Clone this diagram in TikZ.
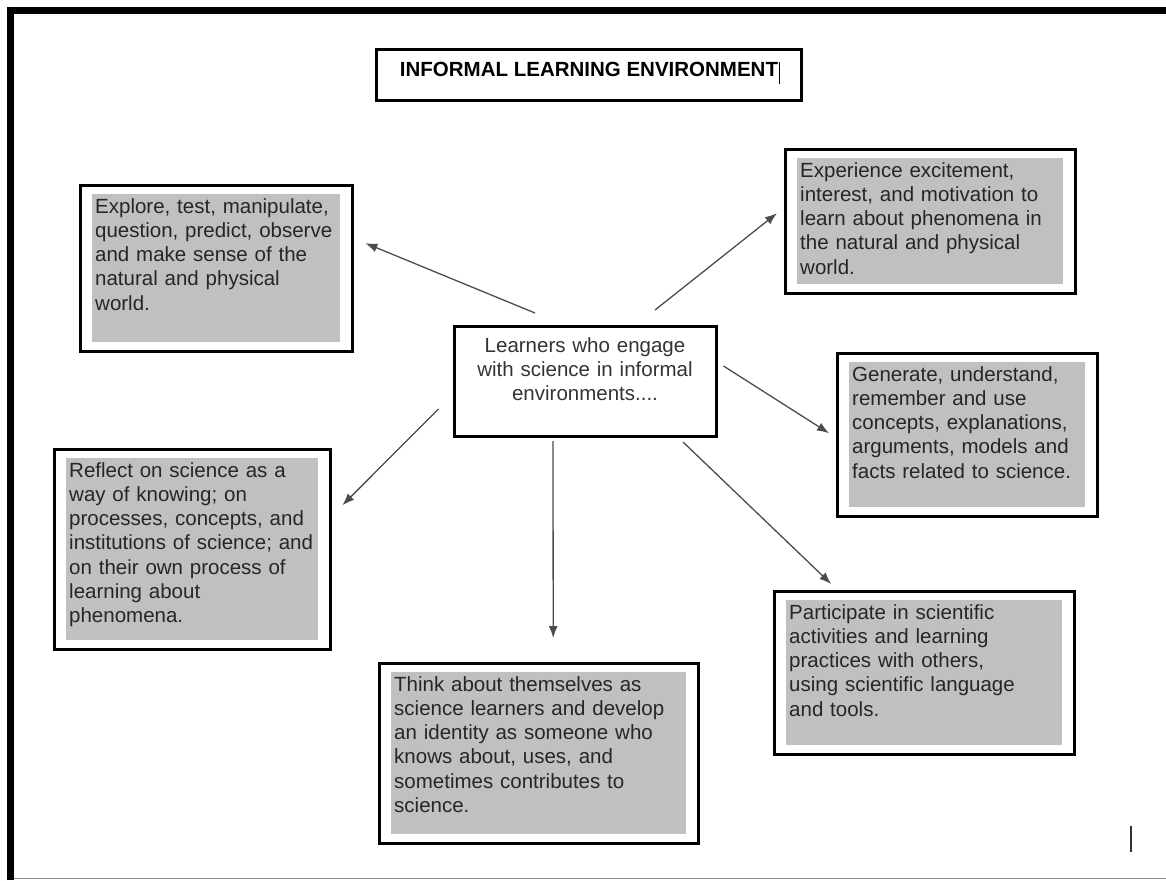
\documentclass[tikz,border=0pt]{standalone}
\usepackage{fontspec}
\setmainfont{Liberation Sans}
\usetikzlibrary{positioning,arrows.meta,fit,calc}
\definecolor{boxgray}{RGB}{192,192,192}

\begin{document}
\begin{tikzpicture}[x=1pt, y=-1pt, >={Latex[length=12pt,width=9pt]}, every node/.style={font=\fontsize{20.5}{24.2}\selectfont}]
\tikzstyle{item}=[rectangle, fill=boxgray, anchor=north west, align=left, inner xsep=3pt, inner ysep=3pt, text height=16pt, text=black!85]
\tikzstyle{frame}=[rectangle, draw, line width=3pt, inner xsep=12pt, inner ysep=9pt]
\tikzstyle{link}=[->, draw=black!70, line width=1.3pt]

\useasboundingbox (0,0) rectangle (1166,880);

% Page edge
\draw[line width=7.5pt] (10.5,880) -- (10.5,10.5) -- (1166,10.5);
\draw[black!45, line width=1.5pt] (14,878.5) -- (1166,878.5);

% Title
\node[draw, line width=3pt, minimum width=425pt, minimum height=51pt, font=\fontsize{20.5}{24.2}\selectfont\bfseries, text height=15pt, text depth=11pt] (title) at (589,75) {INFORMAL LEARNING ENVIRONMENT};
\draw[line width=1pt] ([shift={(190,-13)}]title.center) -- ([shift={(190,9)}]title.center);

% Centre
\node[draw, line width=3pt, minimum width=262pt, minimum height=110pt, text width=248pt, align=center, inner ysep=0pt, text height=25.5pt, text depth=84.5pt, text=black!80] (learn) at (585,381.5) {Learners who engage\\with science in informal\\environments....};

% Outcome boxes
\node[item, text width=242pt, text depth=126pt] (expl) at (92,194) {Explore, test, manipulate,\\question, predict, observe\\and make sense of the\\natural and physical\\world.};
\node[frame, fit=(expl)] (explBox) {};

\node[item, text width=260pt, text depth=104pt] (excite) at (797,158) {Experience excitement,\\interest, and motivation to\\learn about phenomena in\\the natural and physical\\world.};
\node[frame, fit=(excite)] (exciteBox) {};

\node[item, text width=230pt, text depth=123pt] (gen) at (849,362) {Generate, understand,\\remember and use\\concepts, explanations,\\arguments, models and\\facts related to science.};
\node[frame, fit=(gen)] (genBox) {};

\node[item, text width=246pt, text depth=160pt] (refl) at (66,458) {Reflect on science as a\\way of knowing; on\\processes, concepts, and\\institutions of science; and\\on their own process of\\learning about\\phenomena.};
\node[frame, fit=(refl)] (reflBox) {};

\node[item, text width=289pt, text depth=140pt] (ident) at (391,672) {Think about themselves as\\science learners and develop\\an identity as someone who\\knows about, uses, and\\sometimes contributes to\\science.};
\node[frame, fit=(ident)] (identBox) {};

\node[item, text width=270pt, text depth=123pt] (part) at (786,600) {Participate in scientific\\activities and learning\\practices with others,\\using scientific language\\and tools.};
\node[frame, fit=(part)] (partBox) {};

% Edges
\draw[link] ([shift={(-50,-12)}]learn.north) -- ([shift={(11.5,-25)}]explBox.east);
\draw[link] ([shift={(70,-15)}]learn.north) -- ([shift={(-6.5,-8)}]exciteBox.west);
\draw[link] ([shift={(6,-15.5)}]learn.east) -- ([shift={(-6.5,-1.5)}]genBox.west);
\draw[link] ([shift={(-14,27.5)}]learn.west) -- ([shift={(10.5,-44)}]reflBox.east);
\draw[link] ([shift={(-32,3)}]learn.south) -- ([shift={(14.5,-23.5)}]identBox.north);
\draw[link] ([shift={(98,4)}]learn.south) -- ([shift={(-93,-5.5)}]partBox.north);

% Stray mark
\draw[line width=2pt, black!80] (1131,826) -- (1131,852);
\end{tikzpicture}
\end{document}
